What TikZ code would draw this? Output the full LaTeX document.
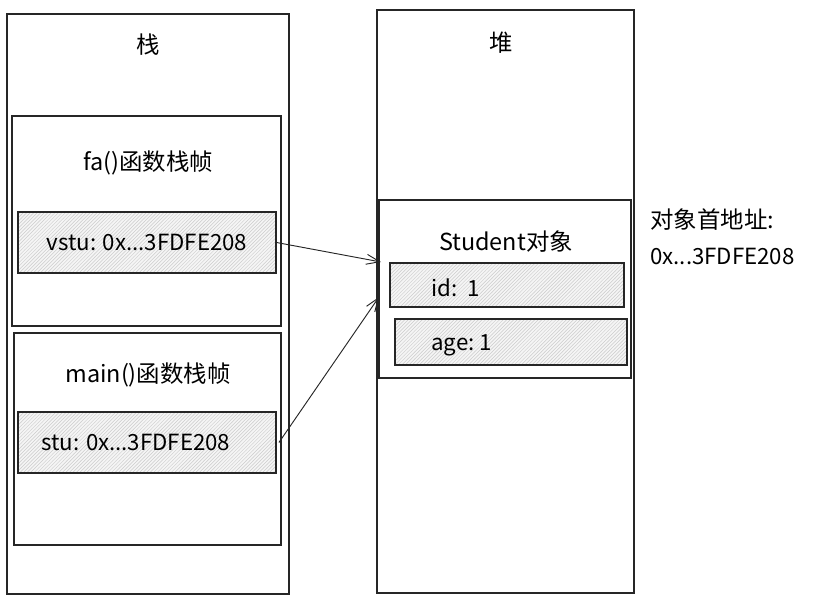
\documentclass[tikz,border=0pt]{standalone}
\usepackage{fontspec}
\setmainfont{Noto Sans CJK SC}
\usetikzlibrary{patterns}
\usetikzlibrary{positioning}
\usetikzlibrary{arrows.meta}

\tikzset{
  frame/.style={draw=black!85,line width=1pt},
  cell/.style={draw=black!85,line width=1pt,preaction={fill=gray!8},pattern=north east lines,pattern color=gray!40,inner sep=0pt},
  txt/.style={font=\fontsize{19}{22}\selectfont,inner sep=1pt},
  title/.style={font=\fontsize{20}{24}\selectfont,inner sep=1pt},
  ptr/.style={draw=black!85,line width=0.8pt,-{Straight Barb[length=4mm,width=3mm]}}
}

\begin{document}
\begin{tikzpicture}[x=0.03cm,y=-0.03cm]
\useasboundingbox (0,0) rectangle (827,605);
% stack and heap
\draw[frame] (7,14) rectangle (289,594);
\draw[frame] (377,10) rectangle (634,593);
\node[title] (stackt) at (148,45) {栈};
\node[title] (heapt) at (501,43) {堆};

% stack frames
\draw[frame] (12,116) rectangle (281,326);
\node[title] (fat) at (148,163) {fa()函数栈帧};
\node[cell,txt,minimum width=7.74cm,minimum height=1.83cm] (vstu) at (147,242.5) {vstu: 0x...3FDFE208};

\draw[frame] (14,333) rectangle (281,545);
\node[title] (maint) at (148,375) {main()函数栈帧};
\node[cell,minimum width=7.74cm,minimum height=1.83cm] (stu) at (147,442.5) {};
\node[txt,anchor=west] (stut) at (40,442) {stu: 0x...3FDFE208};

% object on the heap
\node[frame,minimum width=7.56cm,minimum height=5.34cm] (obj) at (505,289) {};
\node[title] (objt) at (506,242) {Student对象};
\node[cell,minimum width=7.02cm,minimum height=1.32cm] (id) at (507,285) {};
\node[txt,anchor=west] (idt) at (430,288) {id:\ \ 1};
\node[cell,minimum width=6.96cm,minimum height=1.38cm] (age) at (511,342) {};
\node[txt,anchor=west] (aget) at (430,345) {age:\ 1};

% address
\node[title,anchor=west] (addr) at (649,220) {对象首地址:};
\node[txt,anchor=west] (addrv) at (649,256) {0x...3FDFE208};

% pointers
\coordinate (in1) at (381,262);
\coordinate (in2) at (379,297);
\draw[ptr] (vstu.east) -- (in1);
\draw[ptr] ([xshift=2pt]stu.east) -- (in2);
\end{tikzpicture}
\end{document}
